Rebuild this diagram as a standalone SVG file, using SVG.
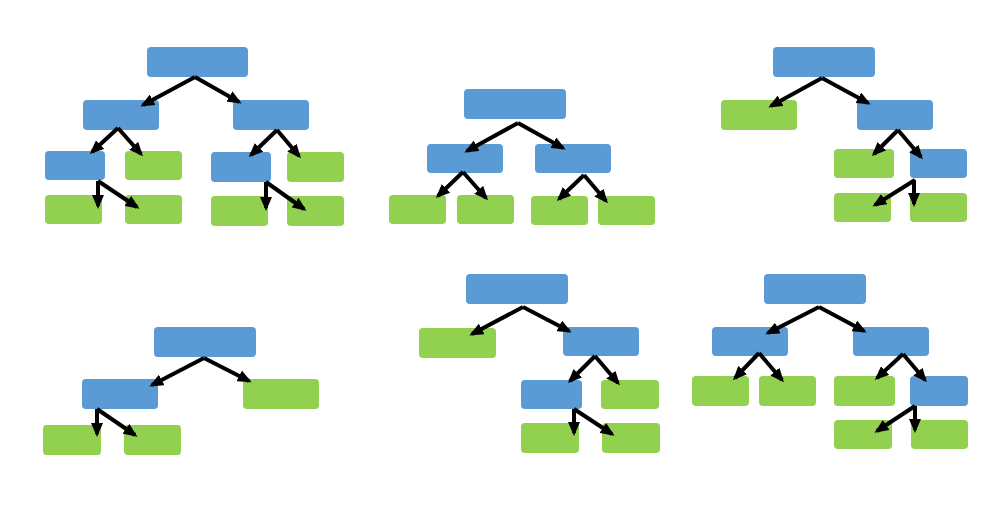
<svg xmlns="http://www.w3.org/2000/svg" width="1000" height="522" viewBox="0 0 1000 522">
<style>
.b{fill:#5B9BD5}
.g{fill:#92D050}
.c line{stroke:#000;stroke-width:4;marker-end:url(#ah)}
</style>
<defs>
<marker id="ah" markerUnits="userSpaceOnUse" markerWidth="14" markerHeight="12" refX="11" refY="6" orient="auto">
<path d="M0,0 L14,6 L0,12 z" fill="#000"/>
</marker>
</defs>
<rect width="1000" height="522" fill="#fff"/>
<!-- Tree 1 -->
<g id="t1-root"><rect class="b" x="147" y="47" width="101" height="30" rx="4"/></g>
<g id="t1-l"><rect class="b" x="83" y="100" width="76" height="30" rx="4"/></g>
<g id="t1-r"><rect class="b" x="233" y="100" width="76" height="30" rx="4"/></g>
<g id="t1-ll"><rect class="b" x="45" y="151" width="60" height="29" rx="4"/></g>
<g id="t1-lr"><rect class="g" x="125" y="151" width="57" height="29" rx="4"/></g>
<g id="t1-rl"><rect class="b" x="211" y="152" width="60" height="30" rx="4"/></g>
<g id="t1-rr"><rect class="g" x="287" y="152" width="57" height="30" rx="4"/></g>
<g id="t1-lll"><rect class="g" x="45" y="195" width="57" height="29" rx="4"/></g>
<g id="t1-llr"><rect class="g" x="125" y="195" width="57" height="29" rx="4"/></g>
<g id="t1-rll"><rect class="g" x="211" y="196" width="57" height="30" rx="4"/></g>
<g id="t1-rlr"><rect class="g" x="287" y="196" width="57" height="30" rx="4"/></g>
<!-- Tree 2 -->
<g id="t2-root"><rect class="b" x="464" y="89" width="102" height="30" rx="4"/></g>
<g id="t2-l"><rect class="b" x="427" y="144" width="76" height="29" rx="4"/></g>
<g id="t2-r"><rect class="b" x="535" y="144" width="76" height="29" rx="4"/></g>
<g id="t2-ll"><rect class="g" x="389" y="195" width="57" height="29" rx="4"/></g>
<g id="t2-lr"><rect class="g" x="457" y="195" width="57" height="29" rx="4"/></g>
<g id="t2-rl"><rect class="g" x="531" y="196" width="57" height="29" rx="4"/></g>
<g id="t2-rr"><rect class="g" x="598" y="196" width="57" height="29" rx="4"/></g>
<!-- Tree 3 -->
<g id="t3-root"><rect class="b" x="773" y="47" width="102" height="30" rx="4"/></g>
<g id="t3-l"><rect class="g" x="721" y="100" width="76" height="30" rx="4"/></g>
<g id="t3-r"><rect class="b" x="857" y="100" width="76" height="30" rx="4"/></g>
<g id="t3-rl"><rect class="g" x="834" y="149" width="60" height="29" rx="4"/></g>
<g id="t3-rr"><rect class="b" x="910" y="149" width="57" height="29" rx="4"/></g>
<g id="t3-rrl"><rect class="g" x="834" y="193" width="57" height="29" rx="4"/></g>
<g id="t3-rrr"><rect class="g" x="910" y="193" width="57" height="29" rx="4"/></g>
<!-- Tree 4 -->
<g id="t4-root"><rect class="b" x="154" y="327" width="102" height="30" rx="4"/></g>
<g id="t4-l"><rect class="b" x="82" y="379" width="76" height="30" rx="4"/></g>
<g id="t4-r"><rect class="g" x="243" y="379" width="76" height="30" rx="4"/></g>
<g id="t4-ll"><rect class="g" x="43" y="425" width="58" height="30" rx="4"/></g>
<g id="t4-lr"><rect class="g" x="124" y="425" width="57" height="30" rx="4"/></g>
<!-- Tree 5 -->
<g id="t5-root"><rect class="b" x="466" y="274" width="102" height="30" rx="4"/></g>
<g id="t5-l"><rect class="g" x="419" y="328" width="77" height="30" rx="4"/></g>
<g id="t5-r"><rect class="b" x="563" y="327" width="76" height="29" rx="4"/></g>
<g id="t5-rl"><rect class="b" x="521" y="380" width="61" height="29" rx="4"/></g>
<g id="t5-rr"><rect class="g" x="601" y="380" width="58" height="29" rx="4"/></g>
<g id="t5-rll"><rect class="g" x="521" y="423" width="58" height="30" rx="4"/></g>
<g id="t5-rlr"><rect class="g" x="602" y="423" width="58" height="30" rx="4"/></g>
<!-- Tree 6 -->
<g id="t6-root"><rect class="b" x="764" y="274" width="102" height="30" rx="4"/></g>
<g id="t6-l"><rect class="b" x="712" y="327" width="76" height="29" rx="4"/></g>
<g id="t6-r"><rect class="b" x="853" y="327" width="76" height="29" rx="4"/></g>
<g id="t6-ll"><rect class="g" x="692" y="376" width="57" height="30" rx="4"/></g>
<g id="t6-lr"><rect class="g" x="759" y="376" width="57" height="30" rx="4"/></g>
<g id="t6-rl"><rect class="g" x="834" y="376" width="61" height="30" rx="4"/></g>
<g id="t6-rr"><rect class="b" x="910" y="376" width="58" height="30" rx="4"/></g>
<g id="t6-rrl"><rect class="g" x="834" y="420" width="58" height="29" rx="4"/></g>
<g id="t6-rrr"><rect class="g" x="911" y="420" width="57" height="29" rx="4"/></g>
<!-- Connectors -->
<g id="connectors" class="c">
<line x1="195" y1="77" x2="143" y2="105"/>
<line x1="195" y1="77" x2="239" y2="102"/>
<line x1="118" y1="128" x2="92" y2="152"/>
<line x1="118" y1="128" x2="141" y2="154"/>
<line x1="277" y1="130" x2="251" y2="155"/>
<line x1="277" y1="130" x2="299" y2="156"/>
<line x1="98" y1="181" x2="98" y2="206"/>
<line x1="98" y1="181" x2="137" y2="207"/>
<line x1="266" y1="182" x2="266" y2="208"/>
<line x1="266" y1="182" x2="304" y2="209"/>

<line x1="518" y1="123" x2="467" y2="151"/>
<line x1="518" y1="123" x2="563" y2="148"/>
<line x1="463" y1="172" x2="438" y2="196"/>
<line x1="463" y1="172" x2="486" y2="198"/>
<line x1="584" y1="175" x2="559" y2="199"/>
<line x1="584" y1="175" x2="606" y2="201"/>

<line x1="822" y1="78" x2="771" y2="106"/>
<line x1="822" y1="78" x2="868" y2="103"/>
<line x1="898" y1="130" x2="874" y2="154"/>
<line x1="898" y1="130" x2="921" y2="157"/>
<line x1="915" y1="180" x2="875" y2="205"/>
<line x1="914" y1="180" x2="914" y2="204"/>

<line x1="204" y1="358" x2="152" y2="385"/>
<line x1="204" y1="358" x2="249" y2="381"/>
<line x1="97" y1="409" x2="97" y2="434"/>
<line x1="97" y1="409" x2="135" y2="435"/>

<line x1="523" y1="307" x2="472" y2="334"/>
<line x1="523" y1="307" x2="569" y2="331"/>
<line x1="595" y1="356" x2="570" y2="381"/>
<line x1="595" y1="356" x2="618" y2="383"/>
<line x1="574" y1="409" x2="574" y2="433"/>
<line x1="574" y1="409" x2="612" y2="434"/>

<line x1="819" y1="307" x2="768" y2="333"/>
<line x1="819" y1="307" x2="864" y2="331"/>
<line x1="759" y1="353" x2="735" y2="378"/>
<line x1="759" y1="353" x2="782" y2="380"/>
<line x1="903" y1="354" x2="877" y2="378"/>
<line x1="903" y1="354" x2="925" y2="380"/>
<line x1="915" y1="406" x2="877" y2="431"/>
<line x1="915" y1="406" x2="915" y2="430"/>
</g>
</svg>
